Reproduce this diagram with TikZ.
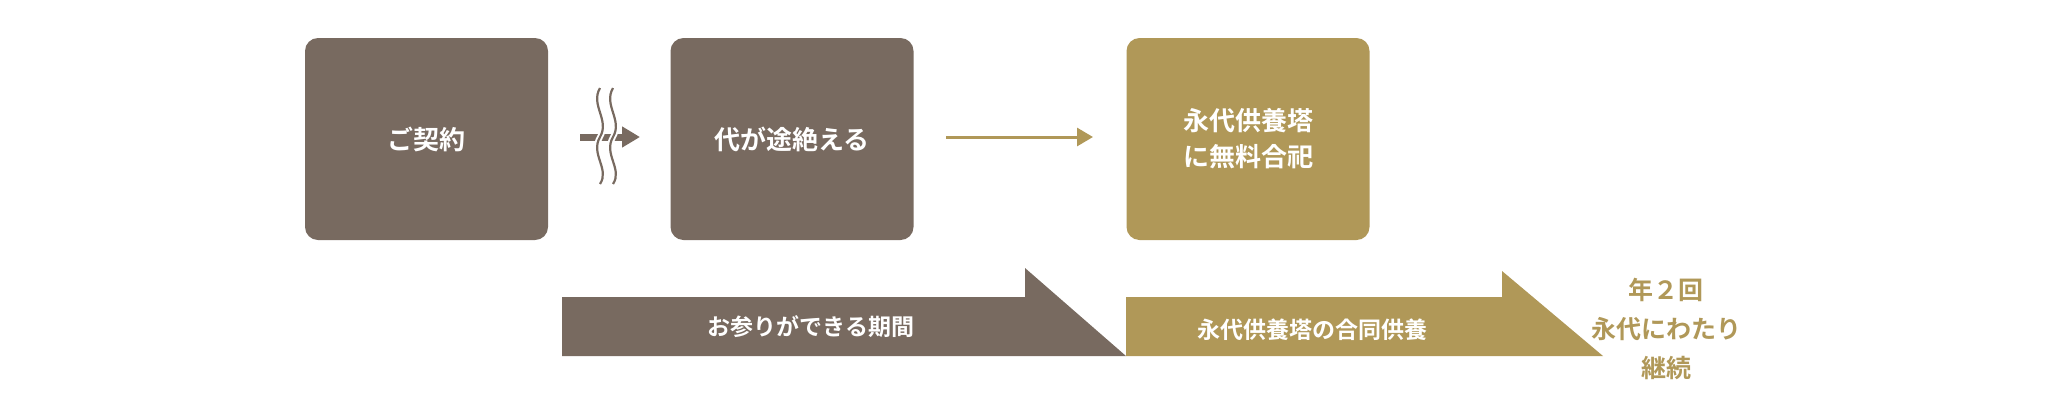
\documentclass[tikz,border=0pt]{standalone}
\usepackage{fontspec}
\usetikzlibrary{arrows.meta}
\setmainfont{Noto Sans CJK JP}[BoldFont={* Bold}]
\definecolor{brn}{HTML}{786A60}
\definecolor{gld}{HTML}{B09858}
\begin{document}
\begin{tikzpicture}[x=1pt,y=-1pt,
  box/.style={rounded corners=13pt,minimum width=243pt,minimum height=202pt,inner sep=0pt,text=white,font=\fontsize{26}{36}\selectfont\bfseries,align=center},
  lbl/.style={text=white,font=\fontsize{23}{28}\selectfont\bfseries}]
\useasboundingbox (0,0) rectangle (2060,400);
\node[box,fill=brn] (b1) at (426.5,139) {ご契約};
\node[box,fill=brn] (b2) at (792,139) {代が途絶える};
\node[box,fill=gld] (b3) at (1248,139) {永代供養塔\\に無料合祀};
\coordinate (a1s) at (580,137);
\coordinate (a1e) at (640,137);
\draw[brn,line width=7pt,-{Triangle[length=18pt,width=20pt]}] (a1s) -- (a1e);
\foreach \xx in {600,613}{
 \draw[white,line width=6pt] (\xx,88) .. controls (\xx-10,105) and (\xx+10,120) .. (\xx,137) .. controls (\xx-10,154) and (\xx+10,169) .. (\xx,184);
 \draw[brn,line width=2.2pt] (\xx,88) .. controls (\xx-10,105) and (\xx+10,120) .. (\xx,137) .. controls (\xx-10,154) and (\xx+10,169) .. (\xx,184);}
\coordinate (a2s) at (946,137);
\coordinate (a2e) at (1093,137);
\draw[gld,line width=3pt,-{Triangle[length=16pt,width=18pt]}] (a2s) -- (a2e);
\fill[brn] (562,297) -- (1025,297) -- (1025,268) -- (1126,356) -- (562,356) -- cycle;
\fill[gld] (1126,297) -- (1502,297) -- (1502,271) -- (1603,356) -- (1126,356) -- cycle;
\node[lbl] (t1) at (811,327) {お参りができる期間};
\node[lbl] (t2) at (1312,330) {永代供養塔の合同供養};
\node[text=gld,font=\fontsize{25}{39}\selectfont\bfseries,align=center] (t3) at (1666,329) {年２回\\永代にわたり\\継続};
\end{tikzpicture}
\end{document}
